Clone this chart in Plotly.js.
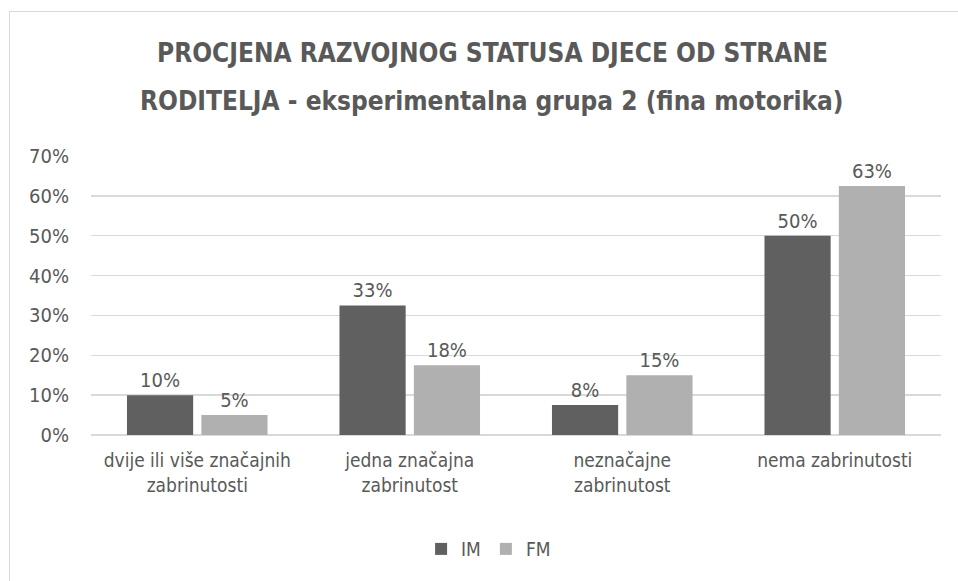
<!DOCTYPE html>
<html>
<head>
<meta charset="utf-8">
<script src="https://cdn.plot.ly/plotly-3.0.1.min.js"></script>
<style>
  html, body { margin: 0; padding: 0; background: #fff; }
  #wrap { position: relative; width: 958px; height: 581px; }
  #frame { position: absolute; left: 9px; top: 11px; right: -2px; bottom: -2px; border-left: 1.5px solid #d9d9d9; border-top: 1.5px solid #d9d9d9; pointer-events: none; }
  #chart { position: absolute; left: 0; top: 0; width: 958px; height: 581px; }
</style>
</head>
<body>
<div id="wrap">
  <div id="chart"></div>
  <div id="frame"></div>
</div>
<script>
const categories = [
  "dvije ili više značajnih<br>zabrinutosti",
  "jedna značajna<br>zabrinutost",
  "neznačajne<br>zabrinutost",
  "nema zabrinutosti"
];
const seriesNames = ["IM", "FM"];
const imValues = [0.10, 0.325, 0.075, 0.50];
const fmValues = [0.05, 0.175, 0.15, 0.625];
const titleLine1 = "PROCJENA RAZVOJNOG STATUSA DJECE OD STRANE";
const titleLine2 = "RODITELJA - eksperimentalna grupa 2 (fina motorika)";

const FONT = "'DejaVu Sans Condensed', 'DejaVu Sans', sans-serif";
const TXT = "#595959";

const traces = [
  {
    type: "bar", name: seriesNames[0], x: categories, y: imValues,
    marker: { color: "#606060" },
    texttemplate: "%{y:.0%}", textposition: "outside", cliponaxis: false,
    textfont: { family: FONT, size: 20, color: TXT }
  },
  {
    type: "bar", name: seriesNames[1], x: categories, y: fmValues,
    marker: { color: "#b0b0b0" },
    texttemplate: "%{y:.0%}", textposition: "outside", cliponaxis: false,
    textfont: { family: FONT, size: 20, color: TXT }
  }
];

const layout = {
  width: 958, height: 581,
  margin: { l: 91, r: 17, t: 156, b: 146 },
  paper_bgcolor: "#ffffff", plot_bgcolor: "#ffffff",
  font: { family: FONT, color: TXT, size: 19 },
  barmode: "group", bargap: 0.30, bargroupgap: 0.11,
  showlegend: true,
  legend: {
    orientation: "h", xref: "container", yref: "container",
    x: 0.51, xanchor: "center", y: 0.055, yanchor: "middle",
    font: { family: FONT, size: 19, color: TXT },
    itemwidth: 30, traceorder: "normal"
  },
  xaxis: {
    type: "category", showgrid: false, zeroline: false, showline: false,
    ticks: "", ticklabelstandoff: 12,
    tickfont: { family: FONT, size: 19, color: TXT }
  },
  yaxis: {
    range: [0, 0.7], dtick: 0.1, tickformat: ".0%",
    showgrid: true, gridcolor: "#d9d9d9", gridwidth: 1.5,
    zeroline: true, zerolinecolor: "#d9d9d9", zerolinewidth: 1.5,
    showline: false, ticks: "", ticklabelstandoff: 21,
    tickfont: { family: FONT, size: 20, color: TXT }
  },
  annotations: [
    { text: "<b>" + titleLine1 + "</b>", xref: "paper", yref: "paper",
      x: 0.472, y: (435 - 53) / 279, xanchor: "center", yanchor: "middle", showarrow: false,
      font: { family: FONT, size: 26, color: TXT } },
    { text: "<b>" + titleLine2 + "</b>", xref: "paper", yref: "paper",
      x: 0.472, y: (435 - 101) / 279, xanchor: "center", yanchor: "middle", showarrow: false,
      font: { family: FONT, size: 26, color: TXT } }
  ]
};

Plotly.newPlot("chart", traces, layout, { displayModeBar: false, staticPlot: true });
</script>
</body>
</html>
